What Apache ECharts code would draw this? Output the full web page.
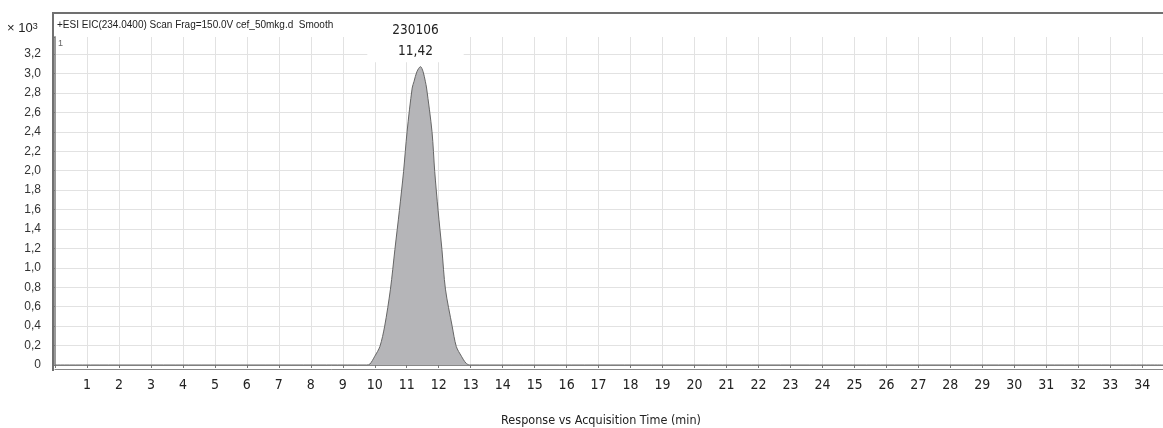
<!DOCTYPE html>
<html>
<head>
<meta charset="utf-8">
<script src="https://cdn.jsdelivr.net/npm/echarts@6/dist/echarts.min.js"></script>
<style>html,body{margin:0;padding:0;background:#fff}#c{width:1163px;height:428px}</style>
</head>
<body>
<div id="c"></div>
<script>
// Acquisition time (min) and response (x10^3 counts)
const times = [0, 9.75, 9.85, 10.0, 10.16, 10.31, 10.49, 10.63, 10.77, 10.90, 11.01, 11.17, 11.23, 11.32, 11.43, 11.51, 11.58, 11.62, 11.79, 11.875, 11.98, 12.10, 12.21, 12.42, 12.55, 12.71, 12.85, 12.97, 34.65];
const values = [0, 0, 0.01, 0.09, 0.19, 0.40, 0.78, 1.19, 1.59, 1.99, 2.40, 2.85, 2.92, 3.02, 3.07, 3.02, 2.92, 2.85, 2.40, 1.99, 1.59, 1.19, 0.78, 0.40, 0.19, 0.09, 0.02, 0, 0];
const peakArea = '230106';
const peakTime = '11,42';
const titleText = '+ESI EIC(234.0400) Scan Frag=150.0V cef_50mkg.d  Smooth';
const xName = 'Response vs Acquisition Time (min)';

const NARROW = '"Liberation Sans Narrow", "DejaVu Sans Condensed", "Roboto", sans-serif';
const peakIdx = values.indexOf(Math.max(...values));
const data = times.map((t, i) => [t, values[i]]);

const chart = echarts.init(document.getElementById('c'), null, {renderer: 'canvas'});
const yFmt = v => {
  const r = Math.round(v * 10) / 10;
  if (Math.abs(v - r) > 1e-6 || Math.abs(Math.round(r * 5) - r * 5) > 1e-6) return '';
  if (r === 0) return '0';
  return r.toFixed(1).replace('.', ',');
};
chart.setOption({
  animation: false,
  grid: {left: 55, right: 0, top: 37, bottom: 63, outerBoundsMode: 'none', containLabel: false},
  xAxis: [{
    type: 'value', min: 0, max: 34.65, interval: 1, offset: 6,
    axisLine: {show: true, lineStyle: {color: '#888', width: 1}},
    axisTick: {show: true, length: 3, lineStyle: {color: '#777'}},
    axisLabel: {
      margin: 7, fontSize: 14, color: '#222', fontFamily: NARROW,
      formatter: v => (v > 0 && Math.abs(v - Math.round(v)) < 1e-6) ? String(Math.round(v)) : ''
    },
    splitLine: {show: true, showMaxLine: false, lineStyle: {color: '#e2e2e2', width: 1}},
    name: xName, nameLocation: 'middle', nameGap: 43,
    nameTextStyle: {fontSize: 12.5, color: '#222', fontFamily: NARROW, padding: [0, 16, 0, 0]}
  }, {
    type: 'value', min: 0, max: 34.65, interval: 1, offset: 4, position: 'bottom',
    axisLine: {show: true, lineStyle: {color: '#888', width: 1}},
    axisTick: {show: false}, axisLabel: {show: false}, splitLine: {show: false}
  }],
  yAxis: [{
    type: 'value', min: 0, max: 3.375, interval: 0.2, offset: 4,
    axisLine: {show: true, lineStyle: {color: '#999', width: 2}},
    axisTick: {show: true, length: 3, lineStyle: {color: '#777'}},
    axisLabel: {margin: 10, fontSize: 12, color: '#333', fontFamily: 'Liberation Sans', formatter: yFmt},
    splitLine: {show: true, showMaxLine: false, lineStyle: {color: '#e2e2e2', width: 1}}
  }],
  series: [{
    type: 'line', data: data, xAxisIndex: 0, yAxisIndex: 0,
    symbol: 'none', smooth: 0.3,
    lineStyle: {color: '#666', width: 1},
    areaStyle: {color: '#b5b5b8', opacity: 1},
    z: 3,
    markPoint: {
      symbol: 'rect', symbolSize: 1,
      itemStyle: {color: 'rgba(0,0,0,0)'},
      data: [{coord: data[peakIdx]}],
      label: {
        show: true, position: 'top', distance: 4, offset: [-5, 0],
        formatter: peakArea + '\n' + peakTime,
        backgroundColor: '#fff', padding: [0, 25, 0, 25],
        lineHeight: 21, fontSize: 13.5, color: '#222',
        fontFamily: NARROW
      }
    }
  }],
  graphic: [
    {type: 'polyline', silent: true, z: 100,
     shape: {points: [[53, 371], [53, 13], [1163, 13]]},
     style: {stroke: '#707070', lineWidth: 2, fill: null}},
    {type: 'text', left: 57, top: 20, silent: true,
     style: {text: titleText, fontSize: 10, fill: '#222', fontFamily: 'Liberation Sans'}},
    {type: 'text', left: 58, top: 39, silent: true,
     style: {text: '1', fontSize: 9, fill: '#666', fontFamily: 'Liberation Sans'}},
    {type: 'text', left: 7, top: 22, silent: true,
     style: {
       text: '{a|× 10}{b|3}', fill: '#222',
       rich: {a: {fontSize: 13, fontFamily: 'Liberation Sans', verticalAlign: 'bottom'},
              b: {fontSize: 9, fontFamily: 'Liberation Sans', verticalAlign: 'top'}}
     }}
  ]
});
</script>
</body>
</html>
